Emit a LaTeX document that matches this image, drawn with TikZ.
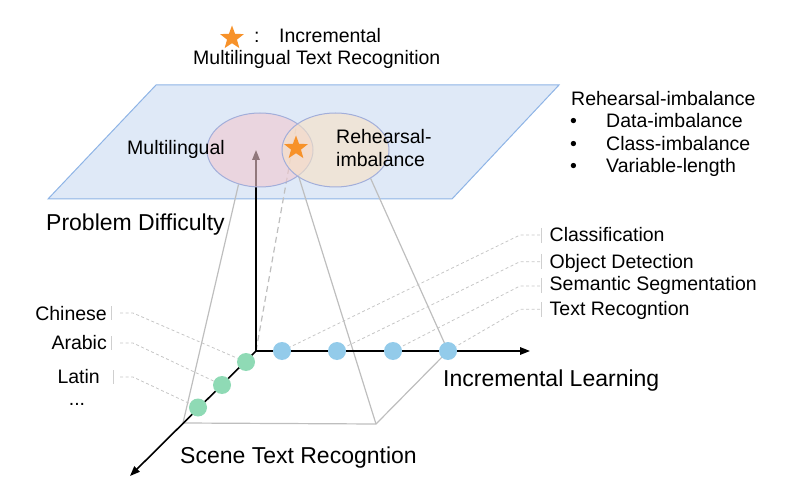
\documentclass[tikz,border=0pt]{standalone}
\usepackage{fontspec}
\setmainfont{Liberation Sans}
\usetikzlibrary{arrows.meta,shapes.geometric}
\definecolor{planefill}{HTML}{DFE9F7}
\definecolor{planedraw}{HTML}{8EB4E6}
\definecolor{ellborder}{HTML}{A2AEDA}
\definecolor{pinkfill}{HTML}{F2C9CF}
\definecolor{beigefill}{HTML}{F8E2C4}
\definecolor{starorange}{HTML}{F7922A}
\definecolor{greendot}{HTML}{8FDAB5}
\definecolor{bluedot}{HTML}{93CBEA}
\definecolor{pyrgray}{HTML}{BEBEBE}
\definecolor{leadgray}{HTML}{C6C6C6}
\definecolor{bargray}{HTML}{CFCFCF}
\tikzset{
  lbl/.style={font=\fontsize{19.5bp}{23bp}\selectfont, inner sep=0, anchor=base west},
  biglbl/.style={font=\fontsize{23bp}{27bp}\selectfont, inner sep=0, anchor=base west},
  axis/.style={line width=1.6bp, -{Triangle[length=10bp,width=7.5bp]}},
  pyr/.style={draw=pyrgray, line width=1.2bp},
  leader/.style={draw=leadgray, line width=0.8bp, dash pattern=on 3bp off 2.5bp},
  lbar/.style={draw=bargray, line width=1bp},
  gdot/.style={circle, fill=greendot, minimum size=18bp, inner sep=0},
  bdot/.style={circle, fill=bluedot, minimum size=18bp, inner sep=0},
  ell/.style={ellipse, draw=ellborder, line width=1bp, inner sep=0},
  orstar/.style={star, star points=5, star point ratio=2.4, fill=starorange, minimum size=25bp, inner sep=0},
}
\begin{document}
\begin{tikzpicture}[x=1bp,y=-1bp]
\useasboundingbox (0,0) rectangle (796,491);

% title
\node[orstar] (tstar) at (232,38) {};
\node[lbl] (tcolon) at (254,42.3) {:};
\node[lbl] (tline1) at (279,42.3) {Incremental};
\node[lbl] (tline2) at (193,65) {Multilingual Text Recognition};

% plane
\path[fill=planefill, draw=planedraw, line width=1bp] (156,85) -- (559,85) -- (452,199) -- (48,199) -- cycle;

% coordinates
\coordinate (O) at (256,351);
\coordinate (ytip) at (256,150);
\coordinate (xtip) at (530,351);
\coordinate (ztip) at (130,476);
\coordinate (fl) at (183,423);
\coordinate (fr) at (376,424);
\coordinate (br) at (448,351);
\coordinate (dtop) at (296,128);

% ellipses (positions only, drawn later)
\path (260,150) node[ell, draw=none, minimum width=106bp, minimum height=74bp] (ml) {};
\path (335.5,150) node[ell, draw=none, minimum width=107bp, minimum height=74bp] (rh) {};

% pyramid
\draw[pyr] (fl) -- (fr) -- (br);
\draw[pyr] (fl) -- (ml.238);
\draw[pyr] (fr) -- (ml.326);
\draw[pyr] (br) -- (rh.321);
\draw[pyr, dashed, dash pattern=on 6bp off 4bp] (O) -- (dtop);

% axes
\draw[axis] (O) -- (ytip);
\draw[axis] (O) -- (xtip);
\draw[axis] (O) -- (ztip);

% ellipses filled over
\node[ell, fill=pinkfill, fill opacity=0.6, minimum width=106bp, minimum height=74bp] (mlf) at (ml.center) {};
\node[ell, fill=beigefill, fill opacity=0.6, minimum width=107bp, minimum height=74bp] (rhf) at (rh.center) {};
\node[orstar] (cstar) at (296,148) {};

% plane labels
\node[lbl] (mltext) at (127,155) {Multilingual};
\node[lbl, align=left, anchor=north west] (rhtext) at (336,129) {Rehearsal-\\imbalance};

% right block
\node[lbl] (rb0) at (571,106) {Rehearsal-imbalance};
\node[lbl] (bu1) at (570,127.7) {\textbullet};
\node[lbl] (rb1) at (606,127.7) {Data-imbalance};
\node[lbl] (bu2) at (570,150.7) {\textbullet};
\node[lbl] (rb2) at (606,150.7) {Class-imbalance};
\node[lbl] (bu3) at (570,172.7) {\textbullet};
\node[lbl] (rb3) at (606,172.7) {Variable-length};

% axis labels
\node[biglbl] (pd) at (46,231) {Problem Difficulty};
\node[biglbl] (il) at (443,386.7) {Incremental Learning};
\node[biglbl] (st) at (180,463.3) {Scene Text Recogntion};

% dots
\node[gdot] (g1) at (246,362) {};
\node[gdot] (g2) at (222,385) {};
\node[gdot] (g3) at (198,407.5) {};
\node[bdot] (b1) at (282,351) {};
\node[bdot] (b2) at (337,351) {};
\node[bdot] (b3) at (393,351) {};
\node[bdot] (b4) at (448,351) {};

% left labels
\node[lbl, anchor=base east] (ch) at (107,320) {Chinese};
\node[lbl, anchor=base east] (ar) at (107,349.3) {Arabic};
\node[lbl, anchor=base east] (la) at (100,383.3) {Latin};
\node[lbl, anchor=base] (etc) at (77,405) {...};
\draw[lbar] (111,306) -- (111,320);
\draw[lbar] (111,336) -- (111,350);
\draw[lbar] (113,370) -- (113,384);
\coordinate (lc) at (120,313);
\coordinate (lar) at (120,343);
\coordinate (lla) at (120,377);
\draw[leader] (lc) -- ++(13,0) -- (g1);
\draw[leader] (lar) -- ++(13,0) -- (g2);
\draw[leader] (lla) -- ++(13,0) -- (g3);

% right labels
\node[lbl] (cl) at (549.5,241.5) {Classification};
\node[lbl] (od) at (549.5,268.3) {Object Detection};
\node[lbl] (ss) at (549.5,291) {Semantic Segmentation};
\node[lbl] (tr) at (549.5,316) {Text Recogntion};
\draw[lbar] (541.7,228) -- (541.7,243);
\draw[lbar] (541.7,254) -- (541.7,269);
\draw[lbar] (541.7,278) -- (541.7,293);
\draw[lbar] (541.7,302) -- (541.7,317);
\coordinate (rc) at (540,235);
\coordinate (rod) at (540,261.7);
\coordinate (rss) at (540,286);
\coordinate (rtr) at (540,309.3);
\draw[leader] (rc) -- ++(-20,0) -- (b1);
\draw[leader] (rod) -- ++(-20,0) -- (b2);
\draw[leader] (rss) -- ++(-20,0) -- (b3);
\draw[leader] (rtr) -- ++(-20,0) -- (b4);
\end{tikzpicture}
\end{document}
